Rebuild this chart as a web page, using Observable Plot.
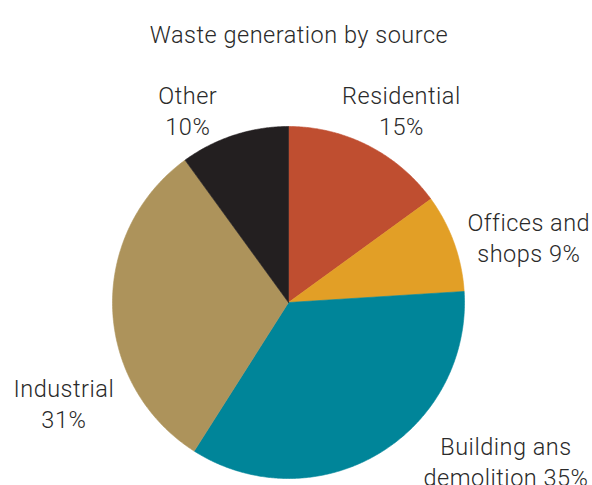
<!DOCTYPE html>
<html><head><meta charset="utf-8">
<script src="https://cdn.jsdelivr.net/npm/d3@7"></script>
<script src="https://cdn.jsdelivr.net/npm/@observablehq/plot@0.6"></script>
<style>body{margin:0;background:#fff;overflow:hidden} svg text{letter-spacing:0.5px}</style>
</head><body><div id="chart"></div>
<script>
// ---- data ----
const title = "Waste generation by source";
const categories = ["Residential", "Offices and shops", "Building ans demolition", "Industrial", "Other"];
const shares = [15, 9, 35, 31, 10];
const labelTexts = ["Residential\n15%", "Offices and\nshops 9%", "Building ans\ndemolition 35%", "Industrial\n31%", "Other\n10%"];
const colors = ["#BF4E30", "#E29F26", "#008599", "#AD935B", "#231F20"];

// ---- layout ----
const W = 592, H = 485, CX = 288, CY = 302, R = 176;
const labelRadius = 1.3;
const labelNudge = [[9, 11], [25, 11.5], [101, -39], [4, 92.5], [-30, 24.5]]; // px
const font = "Roboto, 'DejaVu Sans', sans-serif";
const fs = 23.5;

const pie = d3.pie().sort(null).value(d => d.share)(categories.map((c, i) => ({cat: c, share: shares[i], label: labelTexts[i]})));

const pts = [];
for (const a of pie) {
  pts.push({cat: a.data.cat, x: 0, y: 0});
  const n = Math.max(2, Math.ceil((a.endAngle - a.startAngle) / (Math.PI / 360)));
  for (let k = 0; k <= n; k++) {
    const t = a.startAngle + (a.endAngle - a.startAngle) * k / n;
    pts.push({cat: a.data.cat, x: Math.sin(t), y: Math.cos(t)});
  }
  pts.push({cat: a.data.cat, x: 0, y: 0});
}

const labels = pie.map((a, i) => {
  const m = (a.startAngle + a.endAngle) / 2;
  return {
    text: a.data.label,
    x: labelRadius * Math.sin(m) + labelNudge[i][0] / R,
    y: labelRadius * Math.cos(m) - labelNudge[i][1] / R
  };
});

const chart = Plot.plot({
  width: W, height: H,
  margin: 0,
  style: {fontFamily: font, background: "#fff", overflow: "visible"},
  x: {domain: [-CX / R, (W - CX) / R], range: [0, W], axis: null},
  y: {domain: [(CY - H) / R, CY / R], range: [H, 0], axis: null},
  color: {domain: categories, range: colors},
  marks: [
    Plot.line(pts, {x: "x", y: "y", z: "cat", fill: "cat", stroke: "cat", strokeWidth: 0.6, curve: "linear"}),
    Plot.text(labels, {x: "x", y: "y", text: "text", fontSize: fs, fontWeight: 300, lineHeight: 31 / fs, fill: "#2a2a2a", fontFamily: font}),
    Plot.text([title], {frameAnchor: "top", dy: 25.5, dx: 2.5, text: d => d, fontSize: fs, fontWeight: 300, fill: "#2a2a2a", fontFamily: font})
  ]
});
document.getElementById("chart").appendChild(chart);
</script>
</body></html>
